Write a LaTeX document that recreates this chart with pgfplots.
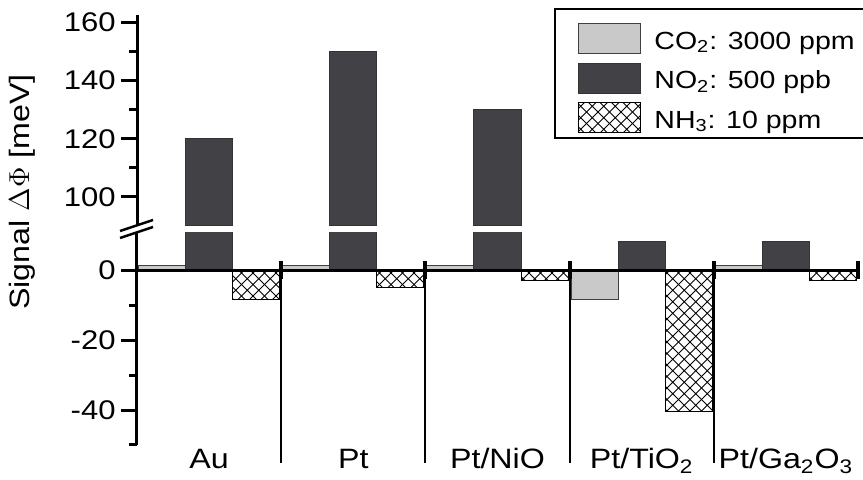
\documentclass[border=0pt]{standalone}
\usepackage{fontspec}
\setmainfont{Liberation Sans}[FakeStretch=1.15]
\usepackage{pgfplots}
\usepackage{pgfplotstable}
\pgfplotsset{compat=1.18}
\usetikzlibrary{patterns}
\pgfdeclarepatternformonly{dcross}{\pgfqpoint{-1pt}{-1pt}}{\pgfqpoint{6.75pt}{6.75pt}}{\pgfqpoint{5.75pt}{5.75pt}}{%
  \pgfsetlinewidth{0.45pt}%
  \pgfpathmoveto{\pgfqpoint{0pt}{0pt}}\pgfpathlineto{\pgfqpoint{5.75pt}{5.75pt}}%
  \pgfpathmoveto{\pgfqpoint{0pt}{5.75pt}}\pgfpathlineto{\pgfqpoint{5.75pt}{0pt}}%
  \pgfusepath{stroke}}
\definecolor{co2}{RGB}{200,201,200}
\definecolor{no2}{RGB}{66,65,69}

\pgfplotstableread{
x co2 no2 nh3
0 1.2 120 -8.4
1 1.2 150 -4.9
2 1.2 130 -3.1
3 -8.3 8.1 -40.5
4 1.2 8.1 -3.1
}\datatable

\pgfplotsset{
  common/.style={
    scale only axis, width=360.5pt, xmin=-0.5, xmax=4.5,
    anchor=south west,
    /pgf/number format/assume math mode=true,
    tick align=outside,
    major tick length=8pt, minor tick length=4pt,
    tick style={line width=1.5pt, black},
    y axis line style={line width=1.5pt},
    yticklabel style={font=\fontsize{13.5}{15}\selectfont, inner sep=2.5pt},
  },
  co2bar/.style={ybar, bar width=0.326, bar shift=-0.326, fill=co2, draw=black!75, line width=0.5pt},
  no2bar/.style={ybar, bar width=0.326, bar shift=0, fill=no2, draw=black!80, line width=0.5pt},
  nh3bar/.style={ybar, bar width=0.326, bar shift=0.326, pattern=dcross, draw=black, line width=0.5pt},
}

\begin{document}
\begin{tikzpicture}
\useasboundingbox (0,0) rectangle (431.5pt,240pt);

% lower part
\begin{axis}[common,
  at={(68.5pt,17.5pt)}, height=106pt,
  ymin=-50, ymax=10.6,
  axis y line*=left, axis x line*=bottom,
  x axis line style={draw=none}, xtick style={draw=none},
  ytick={-40,-20,0}, minor ytick={-50,-30,-10},
  xtick={0,1,2,3,4},
  xticklabels={Au, Pt, Pt/NiO, Pt/TiO\textsubscript{2}, Pt/Ga\textsubscript{2}O\textsubscript{3}},
  xticklabel style={font=\fontsize{14}{16}\selectfont, anchor=base, yshift=-4pt},
]
\addplot[co2bar] table[x=x, y=co2] {\datatable};
\addplot[no2bar] table[x=x, y=no2] {\datatable};
\addplot[nh3bar] table[x=x, y=nh3] {\datatable};
\end{axis}

% upper part
\begin{axis}[common,
  at={(68.5pt,127pt)}, height=105.5pt,
  ymin=90, ymax=162.6,
  axis y line*=left, axis x line=none,
  ytick={100,120,140,160}, minor ytick={110,130,150},
  legend style={at={(0.6117,0.962)}, anchor=north west, draw=none, fill=none,
    inner sep=0pt, nodes={inner sep=0pt}, column sep=6.5pt, row sep=4.25pt,
    font=\fontsize{12.4}{14}\selectfont},
  legend cell align=left,
  legend image code/.code={\draw[#1] (0pt,-6pt) rectangle (31pt,9pt);},
]
\addlegendimage{fill=co2, draw=black!75, line width=0.5pt}
\addlegendentry{CO\textsubscript{2}: 3000 ppm}
\addlegendimage{fill=no2, draw=black!80, line width=0.5pt}
\addlegendentry{NO\textsubscript{2}: 500 ppb}
\addlegendimage{pattern=dcross, draw=black, line width=0.5pt}
\addlegendentry{NH\textsubscript{3}: 10 ppm}
\addplot[no2bar, forget plot, restrict y to domain=50:1000] table[x=x, y=no2] {\datatable};
\end{axis}

% overlay: zero line and group separators
\begin{axis}[common,
  at={(68.5pt,17.5pt)}, height=106pt,
  ymin=-50, ymax=10.6, axis lines=none, clip=false,
]
\addplot[black, line width=1.5pt] coordinates {(-0.5,0) (4.5,0)};
\addplot[black, line width=1pt] coordinates {(0.5,2.6) (0.5,-55.1)};
\addplot[black, line width=1pt] coordinates {(1.5,2.6) (1.5,-55.1)};
\addplot[black, line width=1pt] coordinates {(2.5,2.6) (2.5,-55.1)};
\addplot[black, line width=1pt] coordinates {(3.5,2.6) (3.5,-55.1)};
\addplot[black, line width=2pt] coordinates {(0.5,2.6) (0.5,-2.6)};
\addplot[black, line width=2pt] coordinates {(1.5,2.6) (1.5,-2.6)};
\addplot[black, line width=2pt] coordinates {(2.5,2.6) (2.5,-2.6)};
\addplot[black, line width=2pt] coordinates {(3.5,2.6) (3.5,-2.6)};
\addplot[black, line width=2pt] coordinates {(4.5,2.6) (4.5,-2.6)};
\end{axis}

% axis break marks
\draw[line width=1.2pt] (60pt,124.5pt) -- (76.5pt,130pt);
\draw[line width=1.2pt] (60pt,121pt) -- (76.5pt,126.5pt);

% legend frame
\draw[line width=1pt] (277.5pt,171pt) rectangle (445pt,235.5pt);

% y label
\node[rotate=90, font=\fontsize{14}{16}\selectfont] at (11pt,144pt) {Signal $\Delta\Phi$ [meV]};
\end{tikzpicture}
\end{document}
